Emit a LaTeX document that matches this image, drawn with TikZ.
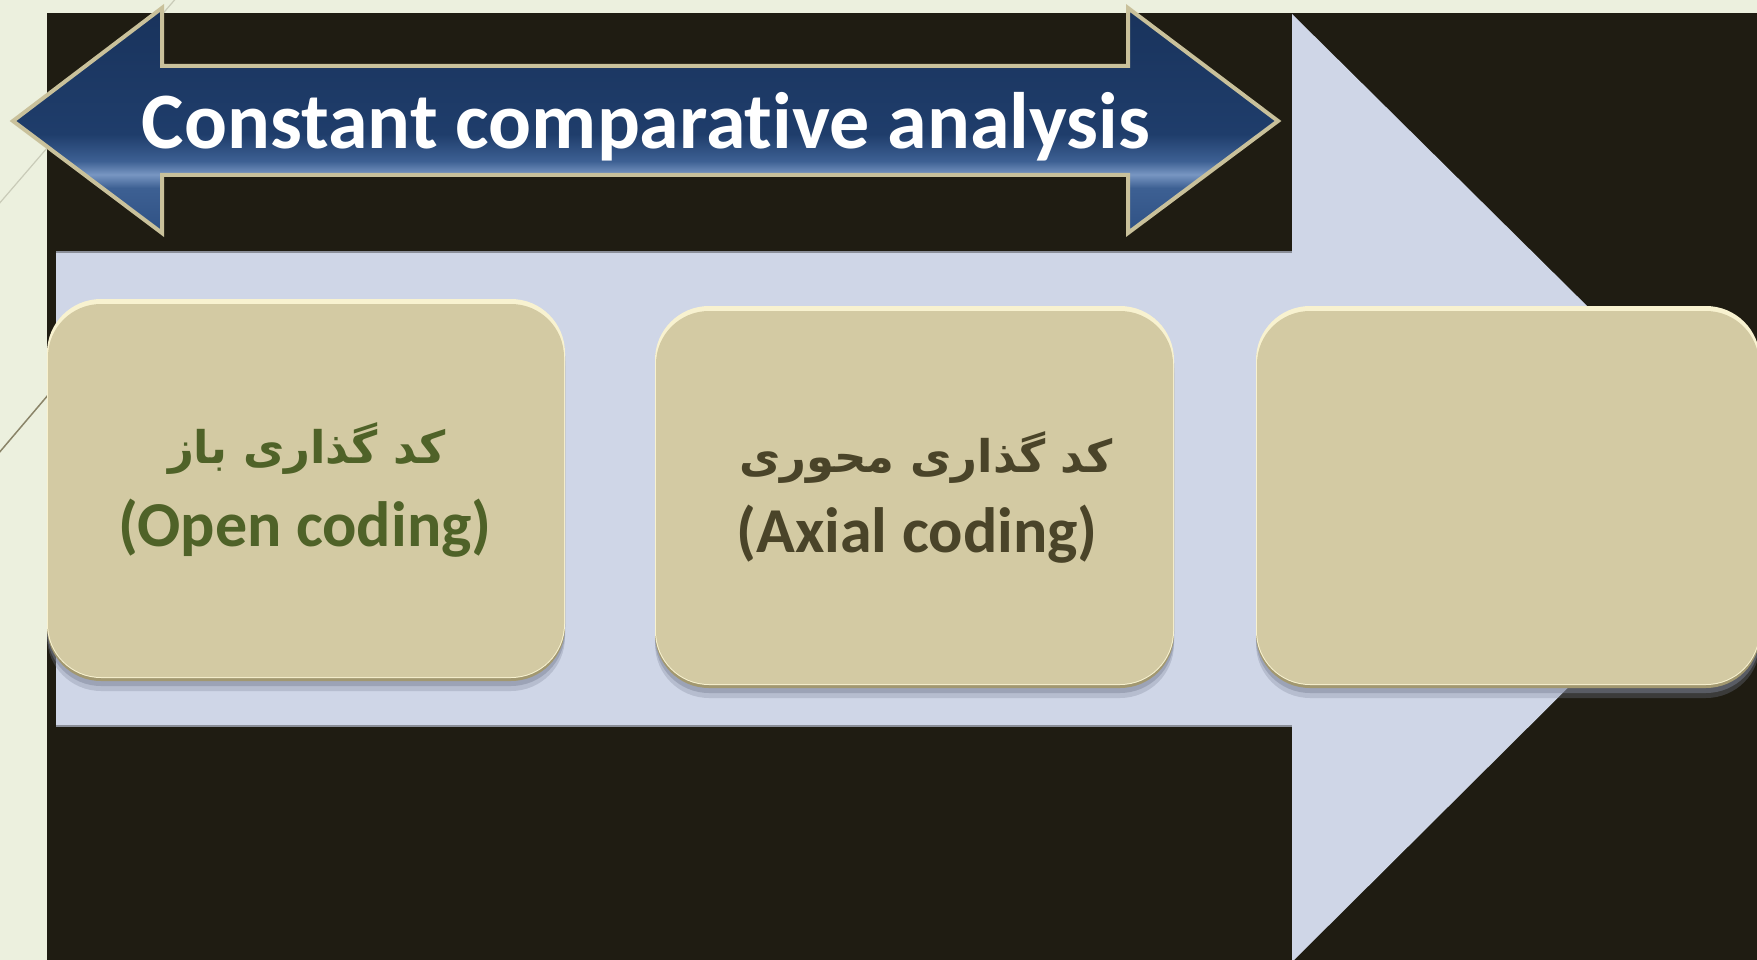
\documentclass[tikz,border=0pt]{standalone}
\usepackage{fontspec}
\setmainfont{Carlito}[Ligatures=NoCommon]
\newfontfamily\farsifont[Script=Arabic]{DejaVu Sans}
\TeXXeTstate=1

\definecolor{pagebg}{HTML}{ECF0DE}
\definecolor{darkbg}{HTML}{1F1C12}
\definecolor{flow}{HTML}{CFD6E7}
\definecolor{flowedge}{HTML}{8A8E98}
\definecolor{lineA}{HTML}{C9CBB8}
\definecolor{lineB}{HTML}{8A8468}
\definecolor{tilefill}{HTML}{D3CAA3}
\definecolor{tilelight}{HTML}{F8F2D0}
\definecolor{tiledark}{HTML}{A29870}
\definecolor{tileshadow}{HTML}{7E8598}
\definecolor{greentext}{HTML}{4F6228}
\definecolor{browntext}{HTML}{4A4429}
\definecolor{arrowrim}{HTML}{C9C19B}
\definecolor{navyA}{HTML}{2F5184}
\definecolor{navyB}{HTML}{7896C2}
\definecolor{navyC}{HTML}{3D6093}
\definecolor{navyD}{HTML}{1F3D6B}
\definecolor{navyE}{HTML}{19335C}

% vertical fill of the double-headed title arrow (bottom to top)
\pgfdeclareverticalshading{titleshade}{100bp}{%
  color(0bp)=(navyA); color(25bp)=(navyA); color(35bp)=(navyC);
  color(38bp)=(navyB); color(41bp)=(navyC); color(47bp)=(navyD);
  color(75bp)=(navyE); color(100bp)=(navyE)}

\tikzset{
  tile/.style={shape=rectangle, rounded corners=54pt, inner sep=0pt,
    minimum height=379pt,
    preaction={fill=tileshadow, fill opacity=0.30, transform canvas={yshift=-13pt}},
    preaction={fill=tileshadow, fill opacity=0.45, transform canvas={yshift=-8pt}},
    preaction={fill=tiledark, transform canvas={yshift=-3pt}},
    fill=tilelight,
    path picture={\fill[tilefill, rounded corners=53pt]
      ([xshift=1pt,yshift=-5pt]path picture bounding box.north west) rectangle
      ([xshift=-1pt,yshift=1pt]path picture bounding box.south east);}},
  entext/.style={inner sep=0pt, font=\fontsize{64}{70}\selectfont\bfseries},
  fatext/.style={inner sep=0pt, font=\fontsize{45}{52}\selectfont\farsifont\bfseries},
  titlearrow/.style={shading=titleshade, draw=arrowrim, line width=4pt, line join=miter},
}

\begin{document}
\begin{tikzpicture}[x=1pt,y=-1pt]
\useasboundingbox (0,0) rectangle (1757,960);
\clip (0,0) rectangle (1757,960);

% page and frame
\fill[pagebg] (0,0) rectangle (1757,960);
\draw[lineA, line width=1.2pt] (178,-4) -- (-2,205);
\draw[lineB, line width=1.5pt] (60,381) -- (-2,454);
\fill[darkbg] (47,13) rectangle (1757,960);

% broad process arrow
\fill[flow] (56,252) -- (1292,252) -- (1292,14) -- (1770,487) -- (1292,962)
  -- (1292,726) -- (56,726) -- cycle;
\draw[flowedge, line width=1.5pt] (56,252) -- (1292,252);
\draw[flowedge, line width=1.5pt] (56,726) -- (1292,726);

% stage tiles
\node[tile, minimum width=518pt] (tileA) at (306,488.5) {};
\node[tile, minimum width=519pt] (tileB) at (914.5,495.5) {};
\node[tile, minimum width=504pt] (tileC) at (1508,495.5) {};

% stage labels
\node[fatext, text=greentext, anchor=base] (tileAfa) at (307,463)
  {\beginR کد گذاری باز\endR};
\node[entext, text=greentext, anchor=base] (tileAen) at (305,546) {(Open coding)};
\node[fatext, text=browntext, anchor=base] (tileBfa) at (926,472)
  {\beginR کد گذاری محوری\endR};
\node[entext, text=browntext, anchor=base] (tileBen) at (917,552) {(Axial coding)};

% double-headed title arrow
\path[titlearrow] (13,121) -- (162,8) -- (162,66) -- (1128,66) -- (1128,8)
  -- (1278,121) -- (1128,233) -- (1128,175) -- (162,175) -- (162,233) -- cycle;
\node[inner sep=0pt, anchor=base, text=white,
  font=\fontsize{80}{90}\selectfont\bfseries] (title) at (646,149)
  {Constant comparative analysis};
\end{tikzpicture}
\end{document}
